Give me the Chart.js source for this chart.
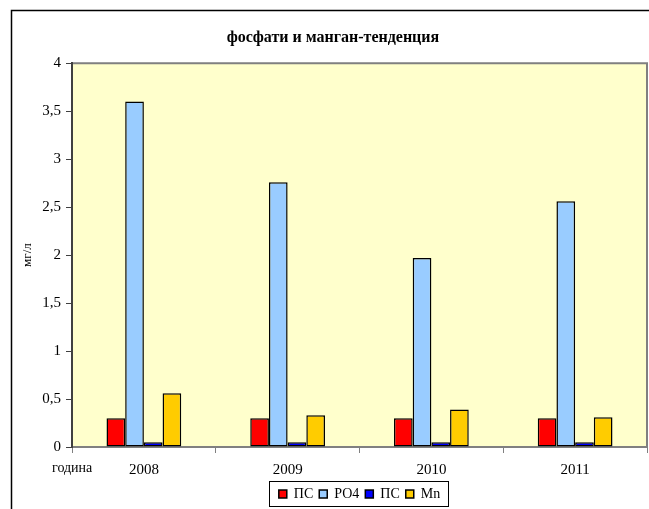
<!DOCTYPE html>
<html>
<head>
<meta charset="utf-8">
<script src="https://cdn.jsdelivr.net/npm/chart.js@4.4.1/dist/chart.umd.min.js"></script>
<style>
  html, body { margin: 0; padding: 0; background: #fff; }
  #wrap { width: 649px; height: 509px; }
</style>
</head>
<body>
<div id="wrap"><canvas id="chart" width="649" height="509"></canvas></div>
<script>
// data
const years = ['2008', '2009', '2010', '2011'];
const psRed = [0.30, 0.30, 0.30, 0.30];
const po4 = [3.60, 2.76, 1.97, 2.56];
const psBlue = [0.05, 0.05, 0.05, 0.05];
const mn = [0.56, 0.33, 0.39, 0.31];
const yTicks = [0, 0.5, 1, 1.5, 2, 2.5, 3, 3.5, 4];

const serif = "'Liberation Serif', 'Times New Roman', serif";

// frame, plot background, legend box and the "година" label
const decor = {
    id: 'decor',
    afterLayout(chart) {
        const a = chart.chartArea;
        const lg = chart.legend;
        const w = lg.right - lg.left;
        const c = (a.left + a.right) / 2;
        lg.left = c - w / 2;
        lg.right = c + w / 2;
        lg.top += 4;
        lg.bottom += 4;
        chart.titleBlock.left = 19;
    },
    beforeDraw(chart) {
        const ctx = chart.ctx;
        const a = chart.chartArea;
        ctx.save();
        ctx.fillStyle = '#fff';
        ctx.fillRect(0, 0, chart.width, chart.height);
        ctx.strokeStyle = '#000';
        ctx.lineWidth = 1.5;
        ctx.strokeRect(11.5, 10.5, 800, 600);
        ctx.fillStyle = '#FFFFCC';
        ctx.fillRect(a.left, a.top, a.right - a.left, a.bottom - a.top);
        ctx.strokeStyle = '#808080';
        ctx.lineWidth = 2;
        ctx.beginPath();
        ctx.moveTo(a.left, a.top);
        ctx.lineTo(a.right, a.top);
        ctx.lineTo(a.right, a.bottom);
        ctx.stroke();
        ctx.restore();
    },
    afterDraw(chart) {
        const ctx = chart.ctx;
        const lg = chart.legend;
        const lw = lg.lineWidths[0];
        const cx = (lg.left + lg.right) / 2;
        ctx.save();
        ctx.strokeStyle = '#000';
        ctx.lineWidth = 1;
        ctx.strokeRect(Math.round(cx - lw / 2 - 7) + 0.5, 481.5, Math.round(lw + 12), 25);
        ctx.fillStyle = '#000';
        ctx.font = '14px ' + serif;
        ctx.textAlign = 'left';
        ctx.textBaseline = 'middle';
        ctx.fillText('година', 52, 468);
        ctx.restore();
    }
};

const ctx = document.getElementById('chart').getContext('2d');
const chart = new Chart(ctx, {
    type: 'bar',
    data: {
        labels: years,
        datasets: [
            { label: 'ПС', data: psRed, backgroundColor: '#FF0000' },
            { label: 'РО4', data: po4, backgroundColor: '#99CCFF' },
            { label: 'ПС', data: psBlue, backgroundColor: '#0000FF' },
            { label: 'Mn', data: mn, backgroundColor: '#FFCC00' }
        ].map(d => Object.assign(d, { borderColor: '#000', borderWidth: 1.5, borderSkipped: false }))
    },
    options: {
        responsive: false,
        animation: false,
        devicePixelRatio: 1,
        layout: { padding: { left: 0, right: 2, top: 8, bottom: 2 } },
        datasets: {
            bar: { barPercentage: 1, categoryPercentage: 0.52 }
        },
        scales: {
            x: {
                grid: { drawOnChartArea: false, tickLength: 6, color: '#808080', offset: true },
                border: { color: '#808080', width: 2 },
                ticks: { color: '#000', padding: 8, font: { family: serif, size: 15 } },
                afterFit(s) { s.height = 30; }
            },
            y: {
                min: 0,
                max: 4,
                afterBuildTicks(s) { s.ticks = yTicks.map(v => ({ value: v })); },
                grid: { drawOnChartArea: false, tickLength: 6, color: '#404040' },
                border: { color: '#404040', width: 2 },
                ticks: {
                    color: '#000',
                    padding: 5,
                    font: { family: serif, size: 15 },
                    callback: v => String(v).replace('.', ',')
                },
                title: {
                    display: true,
                    text: 'мг/л',
                    color: '#000',
                    font: { family: serif, size: 13 },
                    padding: { top: 20, bottom: 0 }
                },
                afterFit(s) { s.width = 72; }
            }
        },
        plugins: {
            title: {
                display: true,
                text: 'фосфати и манган-тенденция',
                color: '#000',
                font: { family: serif, size: 16, weight: 'bold' },
                padding: { top: 20, bottom: 16 }
            },
            legend: {
                position: 'bottom',
                labels: {
                    color: '#000',
                    boxWidth: 8,
                    boxHeight: 8,
                    padding: 6,
                    font: { family: serif, size: 14 }
                }
            },
            tooltip: { enabled: false }
        }
    },
    plugins: [decor]
});
</script>
</body>
</html>
